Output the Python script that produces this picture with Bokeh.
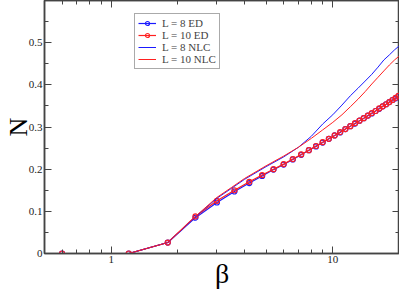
from bokeh.plotting import figure
from bokeh.models import (LogAxis, LinearAxis, FixedTicker,
                          Legend, LegendItem, Range1d)
from bokeh.embed import file_html
from bokeh.resources import INLINE

# ---- data ----
beta_ed = [0.6, 1.2, 1.8, 2.4, 3.0, 3.6, 4.2, 4.8, 5.4, 6.0, 6.6, 7.2, 7.8, 8.4, 9.0,
           9.6, 10.2, 10.8, 11.4, 12.0, 12.6, 13.2, 13.8, 14.4, 15.0, 15.6, 16.2,
           16.8, 17.4, 18.0, 18.6, 19.2, 19.8]
n_ed_L8 = [0, 0, 0.026, 0.085, 0.121, 0.147, 0.167, 0.184, 0.199, 0.211,
           0.223, 0.234, 0.245, 0.254, 0.263, 0.272, 0.280, 0.287, 0.295, 0.302,
           0.308, 0.315, 0.321, 0.327, 0.332, 0.338, 0.343, 0.349, 0.354, 0.359,
           0.364, 0.368, 0.373]
n_ed_L10 = [0, 0, 0.026, 0.088, 0.125, 0.150, 0.170, 0.186, 0.200, 0.212,
            0.224, 0.235, 0.245, 0.255, 0.264, 0.272, 0.280, 0.288, 0.295, 0.302,
            0.309, 0.315, 0.321, 0.327, 0.333, 0.338, 0.344, 0.349, 0.354, 0.359,
            0.364, 0.369, 0.374]
beta_nlc = [0.6, 1.2, 1.8, 2.4, 3.0, 3.5, 4.0, 5.0, 6.0, 7.0, 8.0, 9.0, 10.0, 11.0,
            12.0, 13.0, 14.0, 15.0, 16.0, 17.0, 18.0, 19.0, 20.0]
n_nlc_L8 = [0, 0, 0.026, 0.087, 0.131, 0.155, 0.176, 0.206, 0.229, 0.252,
            0.278, 0.307, 0.329, 0.352, 0.374, 0.392, 0.409, 0.425, 0.442, 0.459,
            0.471, 0.483, 0.493]
n_nlc_L10 = [0, 0, 0.026, 0.088, 0.133, 0.157, 0.178, 0.208, 0.231, 0.252,
             0.273, 0.293, 0.311, 0.329, 0.348, 0.366, 0.384, 0.402, 0.418, 0.433,
             0.447, 0.459, 0.469]
x_major_ticks = [1, 10]
x_minor_ticks = [0.5, 0.6, 0.7, 0.8, 0.9, 2, 3, 4, 5, 6, 7, 8, 9, 20]
y_major_ticks = [0, 0.1, 0.2, 0.3, 0.4, 0.5]
y_minor_ticks = [0.05, 0.15, 0.25, 0.35, 0.45, 0.55, 0.6]
series_labels = ["L = 8 ED", "L = 10 ED", "L = 8 NLC", "L = 10 NLC"]

BLUE = "#1a1aff"
RED = "#ff2020"
FONT = "Liberation Serif"
AX = "#444444"

p = figure(width=399, height=291, x_axis_type="log",
           x_range=Range1d(0.5, 20), y_range=Range1d(0, 0.6),
           output_backend="svg", toolbar_location=None)
p.min_border_left = 0
p.min_border_right = 0
p.min_border_top = 0
p.min_border_bottom = 0
p.xgrid.visible = False
p.ygrid.visible = False
p.outline_line_color = AX
p.outline_line_width = 1.5
p.background_fill_color = "white"
p.border_fill_color = "white"


def style(ax, show_labels):
    ax.axis_line_color = AX
    ax.axis_line_width = 1.5
    ax.major_tick_in = 7
    ax.major_tick_out = 0
    ax.minor_tick_in = 4
    ax.minor_tick_out = 0
    ax.major_tick_line_color = AX
    ax.minor_tick_line_color = AX
    ax.major_label_text_font = FONT
    ax.major_label_text_color = "#222222"
    ax.axis_label_text_font = FONT
    ax.axis_label_text_font_style = "normal"
    ax.axis_label_text_color = "black"
    ax.major_label_text_font_size = "11px"
    ax.major_label_standoff = 2
    if not show_labels:
        ax.major_label_text_alpha = 0
        ax.major_label_text_font_size = "2px"
        ax.major_label_standoff = 0


xa = p.xaxis[0]
xa.ticker = FixedTicker(ticks=x_major_ticks, minor_ticks=x_minor_ticks)
xa.major_label_overrides = {1: "1", 10: "10"}
style(xa, True)
xa.axis_label = "β"
xa.axis_label_text_font_size = "28px"
xa.axis_label_standoff = -8

ya = p.yaxis[0]
ya.ticker = FixedTicker(ticks=y_major_ticks, minor_ticks=y_minor_ticks)
ya.major_label_overrides = {0: "0"}
style(ya, True)
ya.axis_label = "N"
ya.axis_label_text_font_size = "26px"
ya.axis_label_standoff = -7

top = LogAxis(ticker=FixedTicker(ticks=x_major_ticks, minor_ticks=x_minor_ticks))
style(top, False)
p.add_layout(top, "above")
right = LinearAxis(ticker=FixedTicker(ticks=y_major_ticks, minor_ticks=y_minor_ticks))
style(right, False)
p.add_layout(right, "right")

l8e = p.line(beta_ed, n_ed_L8, line_color=BLUE, line_width=1.2)
s8e = p.scatter(beta_ed, n_ed_L8, marker="circle", size=5, line_color=BLUE,
                fill_color=None, line_width=1.2)
l10e = p.line(beta_ed, n_ed_L10, line_color=RED, line_width=1.2)
s10e = p.scatter(beta_ed, n_ed_L10, marker="circle", size=5, line_color=RED,
                 fill_color=None, line_width=1.2)
l8n = p.line(beta_nlc, n_nlc_L8, line_color=BLUE, line_width=1)
l10n = p.line(beta_nlc, n_nlc_L10, line_color=RED, line_width=1)

legend = Legend(items=[
    LegendItem(label=series_labels[0], renderers=[l8e, s8e]),
    LegendItem(label=series_labels[1], renderers=[l10e, s10e]),
    LegendItem(label=series_labels[2], renderers=[l8n]),
    LegendItem(label=series_labels[3], renderers=[l10n]),
], location=(90, 184))
legend.label_text_font = FONT
legend.label_text_font_size = "11px"
legend.label_height = 10
legend.glyph_height = 10
legend.glyph_width = 18
legend.spacing = 0
legend.padding = 3
legend.margin = 0
legend.label_standoff = 6
legend.border_line_color = "#555555"
legend.border_line_width = 1
legend.background_fill_alpha = 1
p.add_layout(legend, "center")

open("out.html", "w").write(file_html(p, INLINE))
